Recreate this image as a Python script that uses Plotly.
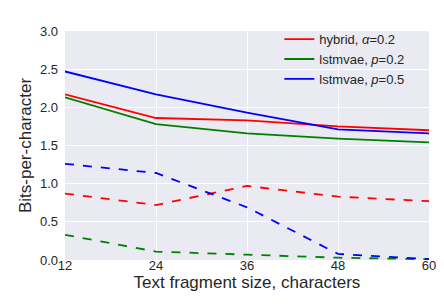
import plotly.graph_objects as go

sizes = [12, 24, 36, 48, 60]
hybrid_solid = [2.17, 1.86, 1.83, 1.75, 1.70]
lstm02_solid = [2.13, 1.78, 1.66, 1.59, 1.54]
lstm05_solid = [2.47, 2.17, 1.93, 1.71, 1.66]
hybrid_dash = [0.87, 0.72, 0.97, 0.83, 0.77]
lstm02_dash = [0.33, 0.11, 0.07, 0.03, 0.01]
lstm05_dash = [1.26, 1.14, 0.69, 0.08, 0.01]
names = ["hybrid, <i>α</i>=0.2", "lstmvae, <i>p</i>=0.2", "lstmvae, <i>p</i>=0.5"]
colors = ["#ff0000", "#008000", "#0000ff"]
yticks = [0, 0.5, 1.0, 1.5, 2.0, 2.5, 3.0]
yticklabels = ["0.0", "0.5", "1.0", "1.5", "2.0", "2.5", "3.0"]

fig = go.Figure()
for ys, nm, c in zip([hybrid_solid, lstm02_solid, lstm05_solid], names, colors):
    fig.add_trace(go.Scatter(x=sizes, y=ys, mode="lines", name=nm,
                             line=dict(color=c, width=1.8)))
for ys, c in zip([hybrid_dash, lstm02_dash, lstm05_dash], colors):
    fig.add_trace(go.Scatter(x=sizes, y=ys, mode="lines", showlegend=False,
                             line=dict(color=c, width=1.8, dash="dash")))

font = dict(family="Liberation Sans, Arial, sans-serif", size=14, color="#262626")
fig.update_layout(
    width=444, height=305,
    margin=dict(l=57, r=23, t=23, b=53),
    plot_bgcolor="#EAEAF2", paper_bgcolor="white",
    font=font,
    legend=dict(x=0.946, y=1.03, xanchor="right", yanchor="top",
                bgcolor="rgba(0,0,0,0)", font=dict(size=13, color="#262626"),
                tracegroupgap=0),
    xaxis=dict(range=[12, 60], tickvals=sizes, ticktext=[str(s) for s in sizes],
               showgrid=True, gridcolor="white", gridwidth=1, zeroline=False,
               title=dict(text="Text fragment size, characters", standoff=0),
               ticks="", showline=False, ticklabelstandoff=-4,
               tickfont=dict(size=13)),
    yaxis=dict(range=[0, 3.0], tickvals=yticks, ticktext=yticklabels,
               showgrid=True, gridcolor="white", gridwidth=1, zeroline=False,
               title=dict(text="Bits-per-character", standoff=3),
               ticks="", showline=False, ticklabelstandoff=6,
               tickfont=dict(size=13)),
)
fig.write_html("out.html")
